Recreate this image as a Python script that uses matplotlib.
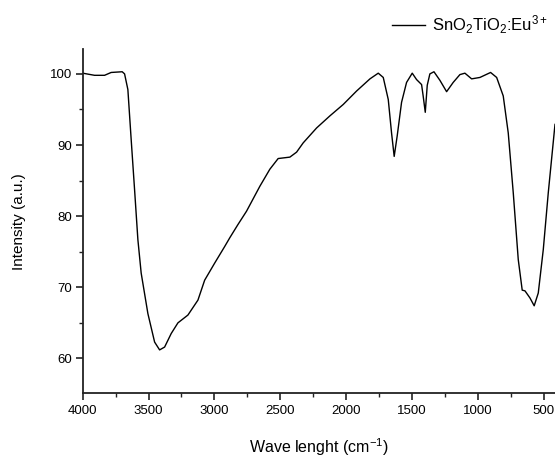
import numpy as np
import matplotlib
matplotlib.use('Agg')
import matplotlib.pyplot as plt
from matplotlib.ticker import MultipleLocator

plt.rcParams['font.family'] = ['Liberation Sans', 'DejaVu Sans']
plt.rcParams['mathtext.fontset'] = 'custom'
plt.rcParams['mathtext.rm'] = 'Liberation Sans'
plt.rcParams['mathtext.it'] = 'Liberation Sans:italic'

# FTIR spectrum
wavenumber = [4000, 3910, 3834, 3784, 3700, 3682, 3657, 3632, 3606, 3581, 3556, 3505,
              3454, 3416, 3378, 3328, 3277, 3201, 3125, 3074, 2998, 2923, 2882, 2822,
              2756, 2655, 2579, 2516, 2427, 2376, 2326, 2224, 2123, 2022, 1920, 1819,
              1756, 1718, 1680, 1655, 1635, 1612, 1579, 1541, 1498, 1465, 1427, 1415,
              1399, 1384, 1364, 1333, 1288, 1237, 1187, 1136, 1098, 1047, 984, 903,
              857, 807, 769, 731, 693, 663, 642, 604, 572, 541, 503, 465, 414]
intensity = [100.1, 99.8, 99.8, 100.2, 100.3, 100.0, 97.8, 90.8, 83.7, 76.7, 72.0, 66.3,
             62.3, 61.2, 61.6, 63.5, 65.0, 66.1, 68.2, 71.0, 73.4, 75.7, 77.0, 78.8,
             80.7, 84.2, 86.6, 88.1, 88.3, 89.0, 90.3, 92.4, 94.1, 95.7, 97.6, 99.3,
             100.1, 99.5, 96.4, 91.7, 88.4, 91.3, 96.0, 98.8, 100.1, 99.2, 98.5, 96.9,
             94.6, 98.4, 100.0, 100.3, 99.1, 97.5, 98.8, 99.9, 100.1, 99.3, 99.5, 100.2,
             99.5, 96.9, 91.7, 83.3, 73.9, 69.6, 69.5, 68.5, 67.4, 69.2, 75.3, 83.3, 92.9]
xticks = [4000, 3500, 3000, 2500, 2000, 1500, 1000, 500]
yticks = [60, 70, 80, 90, 100]

fig = plt.figure(figsize=(5.55, 4.57), dpi=100)
ax = fig.add_axes([0.149, 0.1394, 0.851, 0.7534])

ax.plot(wavenumber, intensity, color='black', lw=1.0, label='SnO$_2$TiO$_2$:Eu$^{3+}$')

ax.set_xlim(4000, 414)
ax.set_ylim(55.1, 103.5)
ax.set_xticks(xticks)
ax.set_yticks(yticks)
ax.xaxis.set_minor_locator(MultipleLocator(250))
ax.yaxis.set_minor_locator(MultipleLocator(5))

for side in ['top', 'right']:
    ax.spines[side].set_visible(False)
for side in ['left', 'bottom']:
    ax.spines[side].set_linewidth(1.3)
    ax.spines[side].set_color('#222222')

ax.tick_params(which='major', direction='out', length=5, width=1.2, labelsize=9.5, color='#222222')
ax.tick_params(which='minor', direction='out', length=3, width=1.0, color='#222222')
ax.tick_params(axis='x', pad=3.5)
ax.tick_params(axis='y', pad=2.5)

ax.set_xlabel('Wave lenght (cm$^{-1}$)', fontsize=11.5, labelpad=14)
ax.set_ylabel('Intensity (a.u.)', fontsize=11, labelpad=17)

fig.legend(loc='center left', bbox_to_anchor=(392 / 555, 1 - 25 / 457), frameon=False,
           fontsize=12, handlelength=2.0, handletextpad=0.4, borderpad=0, borderaxespad=0)

fig.savefig('out.png', dpi=100)
